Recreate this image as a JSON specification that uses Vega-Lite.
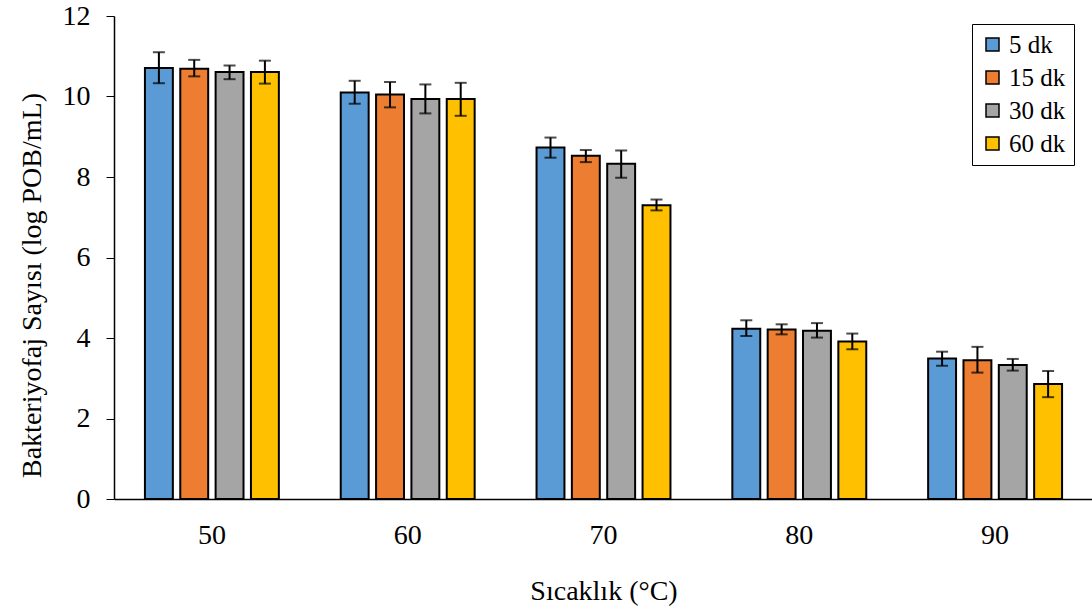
{
  "$schema": "https://vega.github.io/schema/vega-lite/v6.json",
  "autosize": "none",
  "width": 979,
  "height": 483,
  "padding": {"left": 114, "top": 16, "right": 0, "bottom": 112},
  "background": "white",
  "config": {
    "view": {"stroke": null},
    "font": "Liberation Serif",
    "axis": {"labelFont": "Liberation Serif", "titleFont": "Liberation Serif", "labelColor": "black", "titleColor": "black", "domainColor": "black", "tickColor": "black", "grid": false, "titleFontWeight": "normal"},
    "legend": {"labelFont": "Liberation Serif"}
  },
  "data": {
    "values": [
      {"temp": "50", "time": "5 dk", "mean": 10.71, "lo": 10.33, "hi": 11.10},
      {"temp": "50", "time": "15 dk", "mean": 10.69, "lo": 10.50, "hi": 10.91},
      {"temp": "50", "time": "30 dk", "mean": 10.61, "lo": 10.43, "hi": 10.77},
      {"temp": "50", "time": "60 dk", "mean": 10.61, "lo": 10.32, "hi": 10.89},
      {"temp": "60", "time": "5 dk", "mean": 10.10, "lo": 9.82, "hi": 10.39},
      {"temp": "60", "time": "15 dk", "mean": 10.05, "lo": 9.73, "hi": 10.36},
      {"temp": "60", "time": "30 dk", "mean": 9.94, "lo": 9.58, "hi": 10.30},
      {"temp": "60", "time": "60 dk", "mean": 9.94, "lo": 9.52, "hi": 10.34},
      {"temp": "70", "time": "5 dk", "mean": 8.73, "lo": 8.48, "hi": 8.98},
      {"temp": "70", "time": "15 dk", "mean": 8.53, "lo": 8.37, "hi": 8.67},
      {"temp": "70", "time": "30 dk", "mean": 8.33, "lo": 7.98, "hi": 8.66},
      {"temp": "70", "time": "60 dk", "mean": 7.30, "lo": 7.17, "hi": 7.44},
      {"temp": "80", "time": "5 dk", "mean": 4.23, "lo": 4.05, "hi": 4.44},
      {"temp": "80", "time": "15 dk", "mean": 4.21, "lo": 4.09, "hi": 4.34},
      {"temp": "80", "time": "30 dk", "mean": 4.18, "lo": 4.01, "hi": 4.37},
      {"temp": "80", "time": "60 dk", "mean": 3.91, "lo": 3.72, "hi": 4.11},
      {"temp": "90", "time": "5 dk", "mean": 3.49, "lo": 3.31, "hi": 3.66},
      {"temp": "90", "time": "15 dk", "mean": 3.45, "lo": 3.14, "hi": 3.78},
      {"temp": "90", "time": "30 dk", "mean": 3.33, "lo": 3.19, "hi": 3.48},
      {"temp": "90", "time": "60 dk", "mean": 2.86, "lo": 2.53, "hi": 3.18}
    ]
  },
  "encoding": {
    "x": {
      "field": "temp", "type": "nominal",
      "scale": {"paddingInner": 0.316, "paddingOuter": 0.158},
      "axis": {"title": "Sıcaklık (°C)", "labelAngle": 0, "labelFontSize": 28, "titleFontSize": 28, "ticks": false, "labelPadding": 22, "titlePadding": 28, "domainWidth": 1.5}
    },
    "xOffset": {
      "field": "time", "type": "nominal",
      "sort": ["5 dk", "15 dk", "30 dk", "60 dk"],
      "scale": {"paddingInner": 0.21, "paddingOuter": 0}
    }
  },
  "layer": [
    {
      "mark": {"type": "bar", "stroke": "black", "strokeWidth": 2},
      "encoding": {
        "y": {
          "field": "mean", "type": "quantitative",
          "scale": {"domain": [0, 12], "nice": false},
          "axis": {"title": "Bakteriyofaj Sayısı (log POB/mL)", "values": [0, 2, 4, 6, 8, 10, 12], "labelFontSize": 28, "titleFontSize": 28, "tickSize": 8, "labelPadding": 16, "titlePadding": 16, "titleY": 269, "domainWidth": 1.5}
        },
        "color": {
          "field": "time", "type": "nominal",
          "sort": ["5 dk", "15 dk", "30 dk", "60 dk"],
          "scale": {"domain": ["5 dk", "15 dk", "30 dk", "60 dk"], "range": ["#5B9BD5", "#ED7D31", "#A5A5A5", "#FFC000"]},
          "legend": {
            "title": null, "orient": "none", "legendX": 858, "legendY": 8,
            "symbolType": "square", "symbolSize": 169, "symbolStrokeColor": "black", "symbolStrokeWidth": 1.5,
            "labelFontSize": 25, "labelColor": "black", "rowPadding": 7, "padding": 8,
            "strokeColor": "black", "fillColor": "white", "symbolOffset": 0, "labelOffset": 4
          }
        }
      }
    },
    {
      "mark": {"type": "rule", "color": "black", "strokeWidth": 2},
      "encoding": {
        "y": {"field": "lo", "type": "quantitative"},
        "y2": {"field": "hi"}
      }
    },
    {
      "mark": {"type": "tick", "color": "black", "thickness": 2, "size": 12, "orient": "horizontal"},
      "encoding": {"y": {"field": "lo", "type": "quantitative"}}
    },
    {
      "mark": {"type": "tick", "color": "black", "thickness": 2, "size": 12, "orient": "horizontal"},
      "encoding": {"y": {"field": "hi", "type": "quantitative"}}
    }
  ]
}
